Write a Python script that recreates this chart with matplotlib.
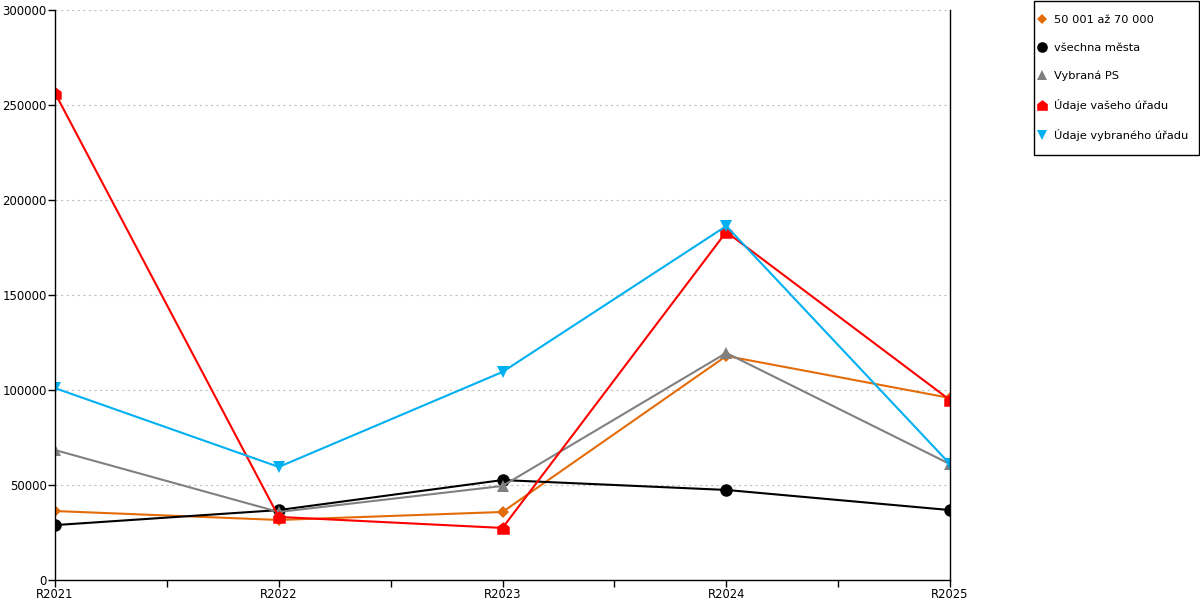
import matplotlib
matplotlib.use("Agg")
import matplotlib.pyplot as plt
from matplotlib.path import Path
from matplotlib.patches import Rectangle

# data
years = ["R2021", "R2022", "R2023", "R2024", "R2025"]
mesta_50_70 = [36300, 31600, 35800, 117900, 95800]
vsechna_mesta = [28900, 36800, 52600, 47400, 36800]
vybrana_ps = [68400, 35800, 49500, 119500, 61000]
vas_urad = [256300, 33200, 27400, 183200, 94700]
vybrany_urad = [101000, 59500, 109500, 186300, 61000]

# little house shaped marker for "Údaje vašeho úřadu"
house = Path([(-1, -1), (1, -1), (1, 0.25), (0, 1), (-1, 0.25), (-1, -1)],
             [Path.MOVETO] + [Path.LINETO] * 4 + [Path.CLOSEPOLY])

plt.rcParams['font.family'] = ['DejaVu Sans']
plt.rcParams['font.size'] = 8

fig = plt.figure(figsize=(12, 6), dpi=100)
ax = fig.add_axes([55 / 1200, 20 / 600, 895 / 1200, 570 / 600])

x = list(range(len(years)))
series = [
    (mesta_50_70, "50 001 až 70 000", "#e36c09", "D", 6),
    (vsechna_mesta, "všechna města", "#000000", "o", 9),
    (vybrana_ps, "Vybraná PS", "#808080", "^", 9),
    (vas_urad, "Údaje vašeho úřadu", "#ff0000", house, 9),
    (vybrany_urad, "Údaje vybraného úřadu", "#00b0f0", "v", 9),
]
for values, label, color, marker, ms in series:
    ax.plot(x, values, color=color, lw=1.5, marker=marker, ms=ms,
            markeredgewidth=0, label=label)

ax.set_xlim(0, len(years) - 1)
ax.set_ylim(0, 300000)
ax.set_xticks(x)
ax.set_xticklabels(years)
ax.set_xticks([i + 0.5 for i in x[:-1]], minor=True)
ax.set_yticks(range(0, 300001, 50000))
ax.tick_params(axis='both', which='both', length=5, width=1, direction='out', pad=1)
ax.tick_params(axis='x', which='major', labelsize=8.3, pad=0.5)
ax.tick_params(axis='y', labelsize=8.5)

ax.grid(axis='y', color='#c0c0c0', linestyle=(0, (2, 3)), lw=0.8)
ax.spines['top'].set_visible(False)
for side in ['left', 'bottom', 'right']:
    ax.spines[side].set_linewidth(1)

# legend box drawn separately so the padding can differ per direction
fig.patches.append(Rectangle((1034 / 1200, 1 - 155 / 600), 165 / 1200, 154 / 600,
                             transform=fig.transFigure, fill=False,
                             edgecolor='black', lw=1))
leg = fig.legend(loc='upper left', bbox_to_anchor=(1039 / 1200, 1 - 15 / 600),
                 frameon=False, handlelength=0.6, handletextpad=0.7,
                 labelspacing=1.56, borderpad=0, borderaxespad=0,
                 fontsize=8.2, markerscale=0.85)
for h in leg.legend_handles:
    h.set_linestyle('None')

fig.savefig("out.png", dpi=100)
